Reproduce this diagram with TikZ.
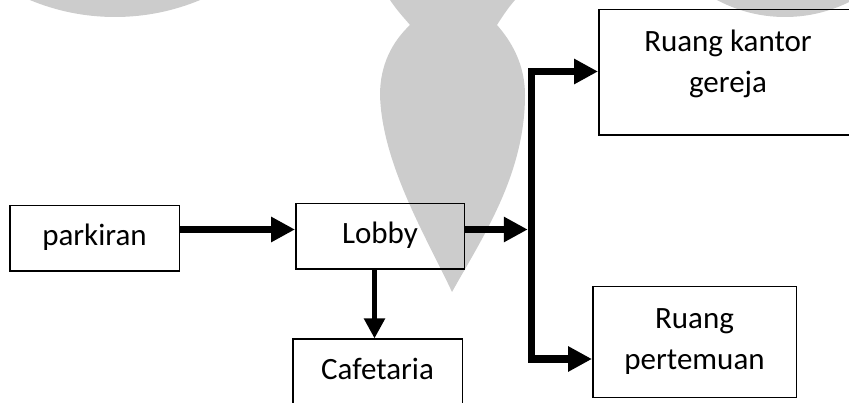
\documentclass[tikz,border=0pt]{standalone}
\usepackage{fontspec}
\setmainfont{Carlito}
\usetikzlibrary{arrows.meta, calc}

\begin{document}
\begin{tikzpicture}[x=1pt,y=-1pt, font=\fontsize{31}{41}\selectfont,
  box/.style={draw, line width=1.5pt, inner sep=0pt, text height=21pt, text depth=6.5pt},
  testo/.style={align=center, inner sep=0pt},
  flow/.style={line width=7.5pt, -{Triangle[length=24pt,width=24pt]}},
  flowthin/.style={line width=5pt, -{Triangle[length=20pt,width=20pt]}}]

\useasboundingbox (0,0) rectangle (849,403);
\clip (0,0) rectangle (849,403);

% --- Filigrana grigia sullo sfondo
\fill[gray!40] (115,-204) circle (221pt);
\fill[gray!40] (785,-127.5) circle (144.5pt);
\fill[gray!40] (390,0) .. controls (398,12) and (406,20) .. (410,25)
  .. controls (392,42) and (380,65) .. (380,95)
  .. controls (382,165) and (428,240) .. (452,292)
  .. controls (482,238) and (525,175) .. (525,95)
  .. controls (525,65) and (512,42) .. (497,25)
  .. controls (502,17) and (508,8) .. (515,0) -- cycle;

% --- Ambienti
\node[box, minimum width=169.5pt, minimum height=65.5pt] (parkiran) at (94.5,238.5) {parkiran};
\node[box, minimum width=168.5pt, minimum height=65.5pt] (lobby) at (380,236.5) {Lobby};
\node[box, minimum width=169.5pt, minimum height=65.5pt] (cafe) at (377.5,372) {Cafetaria};
\node[box, minimum width=258.5pt, minimum height=125.5pt,
  label={[testo, name=kantor-t, anchor=north, yshift=-21pt]north:{Ruang kantor\\gereja}}]
  (kantor) at (728,72.5) {};
\node[box, minimum width=203.5pt, minimum height=110.5pt,
  label={[testo, name=temu-t, anchor=north, yshift=-22.5pt]north:{Ruang\\pertemuan}}]
  (temu) at (694.5,342) {};

% --- Percorsi
\coordinate (junc) at (527.75,229.5);
\coordinate (drop) at (374.5,0);
\draw[flow] (parkiran.east |- junc) -- (lobby.west |- junc);
\draw[flow] (lobby.east |- junc) -- (junc);
\draw[flowthin] (lobby.south -| drop) -- (cafe.north -| drop);

% --- Diramazione verso le due sale
\coordinate (top) at (531.5,71.5);
\coordinate (bot) at (531.5,359);
\draw[flow, {Triangle[length=24pt,width=24pt]}-{Triangle[length=24pt,width=24pt]}, line join=miter]
  (kantor.west |- top) -- (top) -- (bot) -- (temu.west |- bot);
\end{tikzpicture}
\end{document}
